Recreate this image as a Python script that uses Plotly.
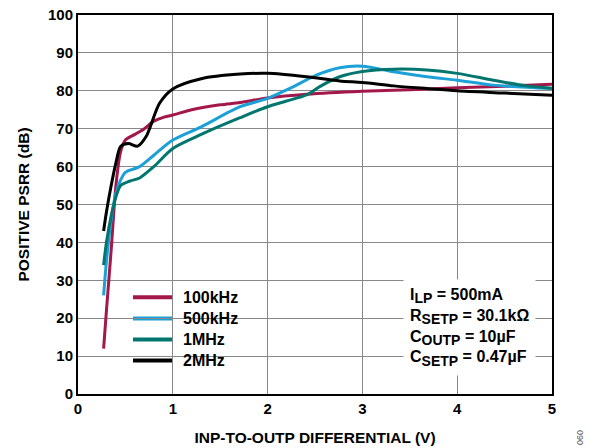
import plotly.graph_objects as go

# ---- data ----
x_100k = [0.27, 0.30, 0.35, 0.40, 0.45, 0.50, 0.60, 0.70, 0.80, 0.90, 1.00, 1.20, 1.50, 1.71, 2.00, 2.41, 3.00, 3.50, 4.00, 4.50, 5.00]
y_100k = [12, 22, 38, 55, 64, 67, 68.5, 70, 72, 73, 73.6, 75, 76.3, 76.9, 78.1, 79.1, 79.9, 80.3, 80.8, 81.2, 81.7]

x_500k = [0.27, 0.30, 0.35, 0.40, 0.45, 0.50, 0.65, 0.80, 1.00, 1.30, 1.71, 2.00, 2.24, 2.52, 2.76, 3.00, 3.33, 3.68, 4.00, 4.38, 5.00]
y_500k = [26, 35, 46, 53, 56.5, 58.5, 60, 63, 67, 70.5, 75.8, 78.0, 80.7, 84.2, 86.1, 86.5, 85.0, 83.7, 82.8, 81.5, 80.6]

x_1m = [0.27, 0.30, 0.35, 0.40, 0.45, 0.55, 0.65, 0.80, 1.00, 1.30, 1.71, 2.00, 2.20, 2.41, 2.55, 2.76, 3.00, 3.33, 3.68, 4.00, 4.38, 4.73, 5.00]
y_1m = [34, 40, 47, 52, 55, 56.2, 57, 60, 64.8, 68.5, 72.9, 75.8, 77.3, 78.9, 81.1, 83.7, 85.1, 85.7, 85.5, 84.6, 82.8, 81.3, 80.7]

x_2m = [0.27, 0.30, 0.35, 0.40, 0.45, 0.53, 0.63, 0.72, 0.86, 1.00, 1.30, 1.71, 2.00, 2.41, 2.76, 3.00, 3.33, 3.68, 4.00, 4.50, 5.00]
y_2m = [43, 48, 55, 61, 65.3, 66.1, 65.4, 68, 76.7, 80.5, 83.2, 84.4, 84.6, 83.7, 82.6, 82.2, 81.3, 80.6, 80.0, 79.4, 78.8]

series_names = ["100kHz", "500kHz", "1MHz", "2MHz"]
series_colors = ["#A3174A", "#1BA0D7", "#00766E", "#000000"]

x_ticks = [0, 1, 2, 3, 4, 5]
y_ticks = [0, 10, 20, 30, 40, 50, 60, 70, 80, 90, 100]

FONT = "Arial, Liberation Sans, sans-serif"

fig = go.Figure()
for name, color, xs, ys in zip(series_names, series_colors,
                               [x_100k, x_500k, x_1m, x_2m],
                               [y_100k, y_500k, y_1m, y_2m]):
    fig.add_trace(go.Scatter(x=xs, y=ys, mode="lines", name=name, showlegend=False,
                             line=dict(color=color, width=3, shape="spline", smoothing=0.8)))

# ---- hand-built legend (paper coordinates) ----
leg_x0, leg_x1 = 0.116, 0.200      # line sample
leg_top, leg_step = 0.255, 0.0555   # row centres
shapes = [dict(type="rect", xref="paper", yref="paper", x0=0.095, x1=0.39,
               y0=0.045, y1=0.295, fillcolor="white", line=dict(width=0), layer="between")]
annotations = []
for i, (name, color) in enumerate(zip(series_names, series_colors)):
    yc = leg_top - i * leg_step
    shapes.append(dict(type="line", xref="paper", yref="paper", x0=leg_x0, x1=leg_x1,
                       y0=yc, y1=yc, line=dict(color=color, width=4), layer="between"))
    annotations.append(dict(xref="paper", yref="paper", x=0.218, y=yc, xanchor="left",
                            yanchor="middle", showarrow=False, text=name,
                            font=dict(family=FONT, size=16, color="black", weight="bold")))

SUB = '<sub><span style="font-size:14px">{}</span></sub>'
annotations += [
    dict(xref="paper", yref="paper", x=0.686, y=0.303, xanchor="left", yanchor="top",
         align="left", showarrow=False, bgcolor="white", borderpad=6,
         font=dict(family=FONT, size=16, color="black", weight="bold"),
         text=("I" + SUB.format("LP") + " = 500mA<br>R" + SUB.format("SETP") + " = 30.1kΩ<br>"
               "C" + SUB.format("OUTP") + " = 10µF<br>C" + SUB.format("SETP") + " = 0.47µF")),
    dict(xref="paper", yref="paper", x=1.059, y=-0.116, xanchor="center", yanchor="middle",
         showarrow=False, textangle=90,
         font=dict(family=FONT, size=9, color="#555555", weight="normal"),
         text="090"),
]

fig.update_layout(
    width=589, height=448,
    margin=dict(l=78, r=37, t=15, b=54, autoexpand=False),
    paper_bgcolor="white", plot_bgcolor="white",
    font=dict(family=FONT, size=15, color="black", weight="bold"),
    showlegend=False,
    shapes=shapes,
    annotations=annotations,
)

fig.update_xaxes(range=[0, 5], tickvals=x_ticks, ticktext=[str(v) for v in x_ticks],
                 showgrid=True, gridcolor="#888888", gridwidth=1,
                 showline=True, linecolor="black", linewidth=2, mirror=True,
                 ticks="", zeroline=False, automargin=False,
                 tickfont=dict(family=FONT, size=15, weight="bold"),
                 title=dict(text="INP-TO-OUTP DIFFERENTIAL (V)", standoff=16,
                            font=dict(family=FONT, size=15.5, weight="bold")))
fig.update_yaxes(range=[0, 100], tickvals=y_ticks, ticktext=[str(v) for v in y_ticks],
                 showgrid=True, gridcolor="#888888", gridwidth=1,
                 showline=True, linecolor="black", linewidth=2, mirror=True,
                 ticks="", zeroline=False, automargin=False,
                 tickfont=dict(family=FONT, size=15, weight="bold"),
                 title=dict(text="POSITIVE PSRR (dB)", standoff=15,
                            font=dict(family=FONT, size=15.5, weight="bold")))

# remove the default 8px page margin so the figure sits at the window origin
fig.write_html("out.html", config={"displayModeBar": False},
               post_script="document.body.style.margin='0px';")
